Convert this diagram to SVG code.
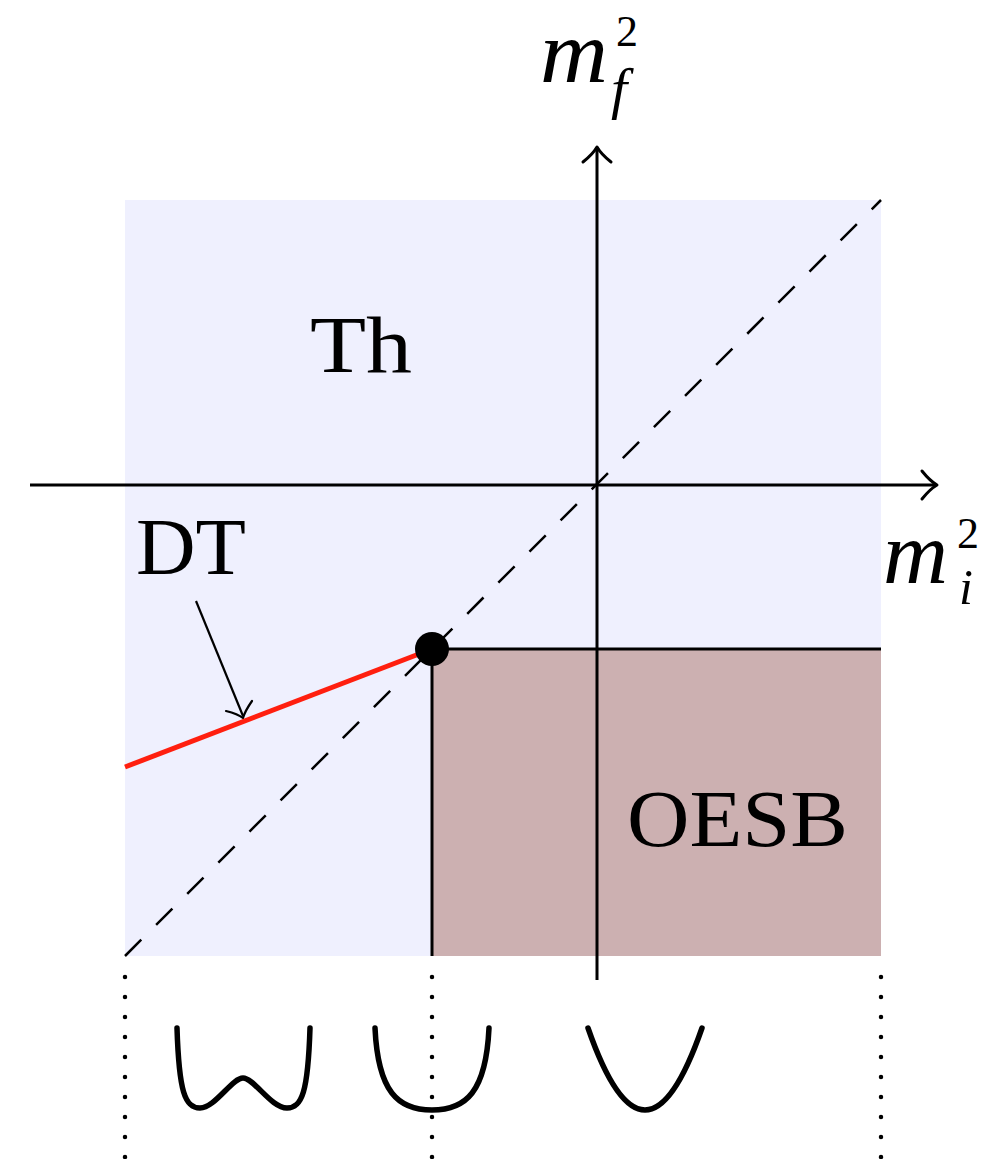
<svg xmlns="http://www.w3.org/2000/svg" width="1001" height="1159" viewBox="0 0 1001 1159">
<style>
.serif{font-family:"Liberation Serif","Times New Roman",serif;fill:#000}
.it{font-style:italic}
.ax{stroke:#000;stroke-width:3;fill:none}
.tip{stroke:#000;stroke-width:3;fill:none;stroke-linecap:round;stroke-linejoin:round}
.pot{stroke:#000;stroke-width:5.5;fill:none;stroke-linecap:round}
.dot{stroke:#000;stroke-width:4.5;fill:none;stroke-linecap:round;stroke-dasharray:0 20}
</style>
<rect width="1001" height="1159" fill="#fff"/>
<g id="region-th">
<rect x="125" y="200" width="756" height="756" fill="#EFF0FE"/>
</g>
<g id="region-oesb">
<rect x="432" y="649" width="449" height="307" fill="#CCB0B1"/>
<line x1="432" y1="649" x2="881" y2="649" class="ax"/>
<line x1="432" y1="649" x2="432" y2="956" class="ax"/>
</g>
<g id="diagonal">
<line x1="125" y1="956" x2="881" y2="200" stroke="#000" stroke-width="2.5" stroke-dasharray="23 21"/>
</g>
<g id="connectors">
<line x1="30" y1="485" x2="936" y2="485" class="ax"/>
<path d="M922,471 Q930,481 937,485 Q930,489 922,499" class="tip"/>
<line x1="597" y1="980" x2="597" y2="149" class="ax"/>
<path d="M583,162 Q593,154 597,147 Q601,154 611,162" class="tip"/>
<line x1="196" y1="601" x2="243" y2="716" stroke="#000" stroke-width="2.2"/>
<path d="M226,711 Q238,714 243,718 Q245,711 252,701" stroke="#000" stroke-width="2.2" fill="none" stroke-linecap="round"/>
</g>
<g id="dt-line">
<line x1="125" y1="767" x2="432" y2="649" stroke="#FF1F0F" stroke-width="5"/>
<circle cx="432" cy="649" r="17" fill="#000"/>
</g>
<g id="label-th"><text x="310" y="372" class="serif" font-size="80" textLength="102" lengthAdjust="spacingAndGlyphs">Th</text></g>
<g id="label-dt"><text x="136" y="574" class="serif" font-size="80" textLength="110" lengthAdjust="spacingAndGlyphs">DT</text></g>
<g id="label-oesb"><text x="627" y="846" class="serif" font-size="80" textLength="221" lengthAdjust="spacingAndGlyphs">OESB</text></g>
<g id="label-mf">
<text x="540" y="82" class="serif it" font-size="88" textLength="68" lengthAdjust="spacingAndGlyphs">m</text>
<text x="616" y="46" class="serif" font-size="44">2</text>
<text x="611" y="108" class="serif it" font-size="58">f</text>
</g>
<g id="label-mi">
<text x="883" y="583" class="serif it" font-size="88" textLength="65" lengthAdjust="spacingAndGlyphs">m</text>
<text x="957" y="548" class="serif" font-size="44">2</text>
<text x="959" y="604" class="serif it" font-size="50">i</text>
</g>
<g id="dotted">
<line x1="125" y1="977" x2="125" y2="1159" class="dot"/>
<line x1="432" y1="977" x2="432" y2="1159" class="dot"/>
<line x1="881" y1="977" x2="881" y2="1159" class="dot"/>
</g>
<g id="potential-double-well"><path d="M177,1028 C179,1092 185,1108 200,1108 C215,1108 232,1078 243,1078 C254,1078 271,1108 287,1108 C302,1108 308,1092 310,1028" class="pot"/></g>
<g id="potential-quartic"><path d="M375,1028 C378,1092 398,1110 432,1110 C466,1110 486,1092 489,1028" class="pot"/></g>
<g id="potential-quadratic"><path d="M588,1028 Q645,1192 702,1028" class="pot"/></g>
</svg>
